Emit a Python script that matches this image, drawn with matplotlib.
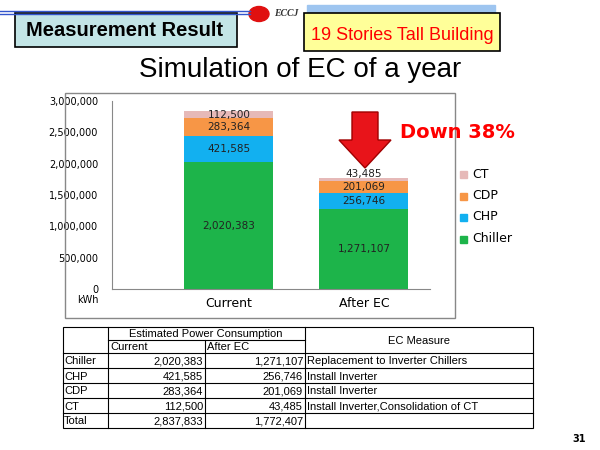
import matplotlib
matplotlib.use("Agg")
import matplotlib.pyplot as plt
from matplotlib.patches import Rectangle, FancyArrow, Circle
from matplotlib.lines import Line2D

categories = ["Current", "After EC"]
components = ["Chiller", "CHP", "CDP", "CT"]
chiller = [2020383, 1271107]
chp = [421585, 256746]
cdp = [283364, 201069]
ct = [112500, 43485]
totals = [2837833, 1772407]
measures = ["Replacement to Inverter Chillers", "Install Inverter", "Install Inverter",
            "Install Inverter,Consolidation of CT", ""]
colors = ["#1db44a", "#12b0f0", "#f79646", "#e6b9b8"]
yticks = [0, 500000, 1000000, 1500000, 2000000, 2500000, 3000000]

W, H = 600, 450
fig = plt.figure(figsize=(6, 4.5), dpi=100)
fig.patch.set_facecolor("white")

def fx(x): return x / W
def fy(y): return 1 - y / H

# header decorations
for yy in (11, 14):
    fig.add_artist(Line2D([0, fx(250)], [fy(yy), fy(yy)], color="#3355cc", lw=1))
fig.add_artist(Rectangle((fx(307), fy(12)), fx(188), 7 / H, color="#9ec5f0"))
fig.add_artist(Rectangle((fx(15), fy(47)), fx(222), 34 / H, facecolor="#c3e5e6", edgecolor="black", lw=1.2))
fig.text(fx(124), fy(31), "Measurement Result", ha="center", va="center", fontsize=14.5, fontweight="bold", family="Liberation Sans")
fig.add_artist(Rectangle((fx(304), fy(51)), fx(196), 38 / H, facecolor="#ffff99", edgecolor="black", lw=1.2))
fig.text(fx(402), fy(36), "19 Stories Tall Building", ha="center", va="center", fontsize=13, color="red", family="Liberation Sans")
fig.add_artist(Circle((fx(259), fy(14)), 10 / W, color="#e01010", transform=fig.transFigure))
fig.text(fx(274), fy(14), "ECCJ", ha="left", va="center", fontsize=7, style="italic", fontweight="bold", family="Liberation Serif", color="#333333")
fig.text(fx(300), fy(70), "Simulation of EC of a year", ha="center", va="center", fontsize=20, family="Liberation Sans")

# chart frame
fig.add_artist(Rectangle((fx(65), fy(318)), fx(390), 225 / H, facecolor="none", edgecolor="#888888", lw=1))

ax = fig.add_axes([fx(112), fy(289), fx(318), (289 - 101) / H])
x = [0, 1]
bottom = [0, 0]
for k, (vals, col) in enumerate(zip([chiller, chp, cdp, ct], colors)):
    ax.bar(x, vals, width=0.66, bottom=bottom, color=col)
    for i, v in enumerate(vals):
        yv = bottom[i] + v / 2
        if k == 3 and i == 1:
            yv = bottom[i] + v + 60000
        ax.text(x[i], yv, f"{v:,}", ha="center", va="center", fontsize=7.5, color="#222222")
    bottom = [b + v for b, v in zip(bottom, vals)]
ax.set_xlim(-0.867, 1.49)
ax.set_ylim(0, 3000000)
ax.set_yticks(yticks)
ax.set_yticklabels([f"{t:,}" for t in yticks], fontsize=7)
ax.set_xticks(x)
ax.set_xticklabels(categories, fontsize=9)
ax.tick_params(length=0)
ax.tick_params(axis="y", pad=10)
ax.tick_params(axis="x", pad=6)
for s in ["top", "right"]:
    ax.spines[s].set_visible(False)
ax.spines["left"].set_color("#888888")
ax.spines["bottom"].set_color("#888888")
fig.text(fx(88), fy(300), "kWh", fontsize=7, ha="center", va="center")

# arrow and text
fig.add_artist(FancyArrow(fx(365), fy(112), 0, -(56 / H), width=fx(26), head_width=fx(52),
                          head_length=28 / H, length_includes_head=True,
                          color="#e8141a", ec="#a00000", transform=fig.transFigure))
fig.text(fx(400), fy(133), "Down 38%", fontsize=14, fontweight="bold", color="red", va="center")

# legend
for i, (name, col) in enumerate(zip(["CT", "CDP", "CHP", "Chiller"], colors[::-1])):
    yy = 174 + i * 21.5
    fig.add_artist(Rectangle((fx(460), fy(yy + 4)), 7 / W, 7 / H, color=col))
    fig.text(fx(472), fy(yy), name, fontsize=9, va="center")

# table
rows = [327, 340, 353, 368, 383, 398, 413, 428]
lw = 0.8
tf = dict(fontsize=8, family="Liberation Sans", va="center")
fig.add_artist(Rectangle((fx(63), fy(428)), fx(470), 101 / H, facecolor="none", edgecolor="black", lw=lw))
for r in rows[2:-1]:
    fig.add_artist(Line2D([fx(63), fx(533)], [fy(r), fy(r)], color="black", lw=lw))
fig.add_artist(Line2D([fx(108), fx(305)], [fy(340), fy(340)], color="black", lw=lw))
fig.add_artist(Line2D([fx(108), fx(108)], [fy(327), fy(428)], color="black", lw=lw))
fig.add_artist(Line2D([fx(205), fx(205)], [fy(340), fy(428)], color="black", lw=lw))
fig.add_artist(Line2D([fx(305), fx(305)], [fy(327), fy(428)], color="black", lw=lw))
fig.text(fx(206), fy(334), "Estimated Power Consumption", ha="center", **tf)
fig.text(fx(110), fy(347), "Current", ha="left", **tf)
fig.text(fx(207), fy(347), "After EC", ha="left", **tf)
fig.text(fx(419), fy(341), "EC Measure", ha="center", **tf)
names = components + ["Total"]
cur = chiller[:1] + chp[:1] + cdp[:1] + ct[:1] + totals[:1]
aft = chiller[1:] + chp[1:] + cdp[1:] + ct[1:] + totals[1:]
for i in range(5):
    yc = fy((rows[i + 2] + rows[i + 3]) / 2 + 1)
    fig.text(fx(64), yc, names[i], ha="left", **tf)
    fig.text(fx(203), yc, f"{cur[i]:,}", ha="right", **tf)
    fig.text(fx(303), yc, f"{aft[i]:,}", ha="right", **tf)
    fig.text(fx(307), yc, measures[i], ha="left", **tf)

fig.text(fx(586), fy(439), "31", fontsize=7, fontweight="bold", ha="right", va="center")
fig.savefig("out.png", dpi=100)
